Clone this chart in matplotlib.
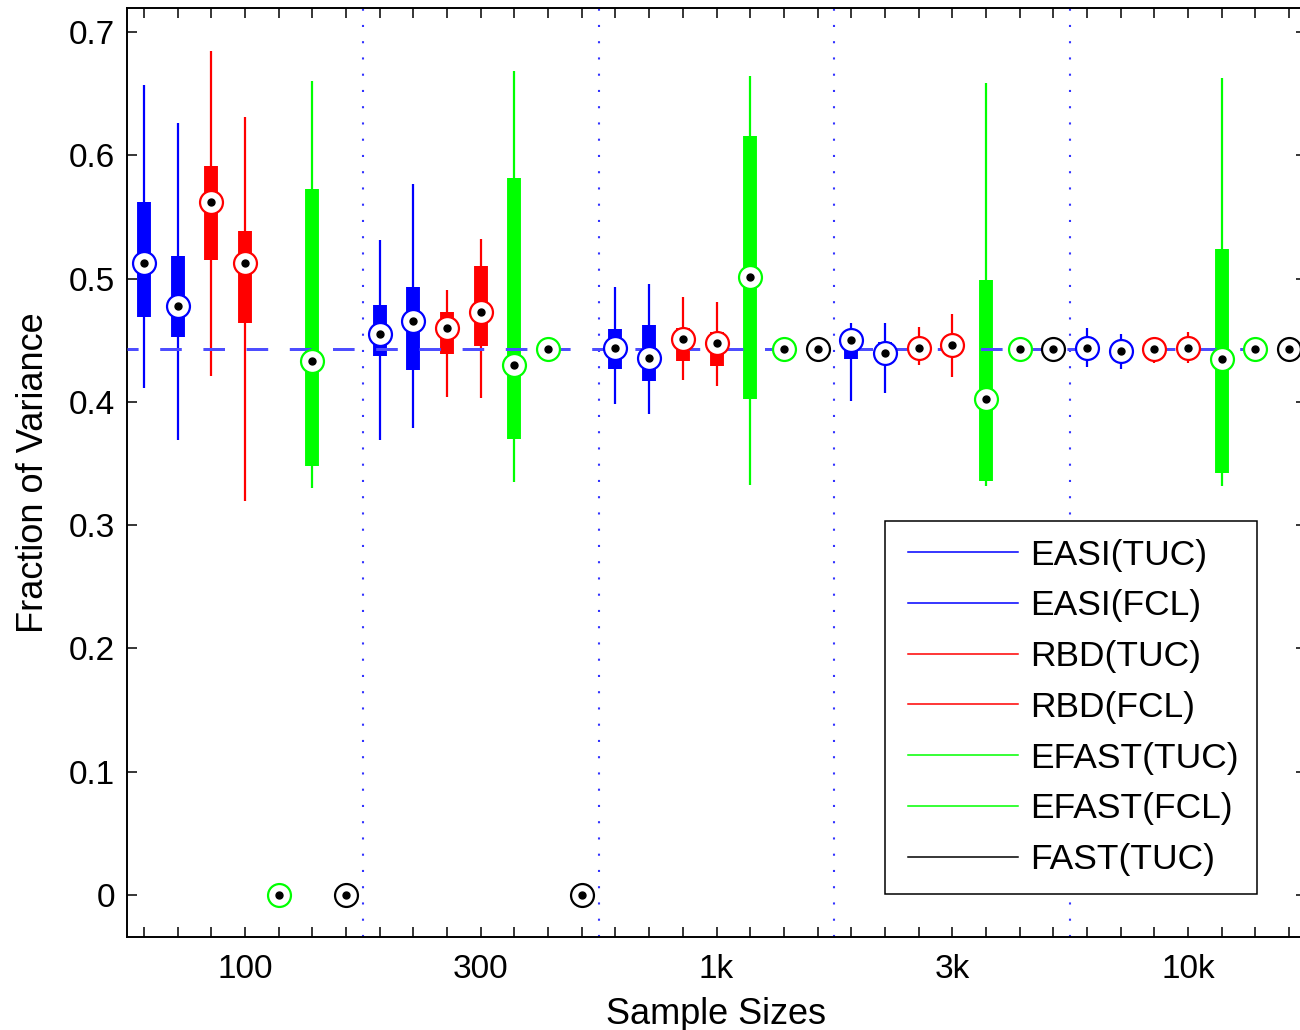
import numpy as np
import matplotlib
matplotlib.use('Agg')
import matplotlib.pyplot as plt
from matplotlib.lines import Line2D
from matplotlib.legend_handler import HandlerLine2D

plt.rcParams['font.family'] = ['Liberation Sans', 'DejaVu Sans']

methods = ['EASI(TUC)', 'EASI(FCL)', 'RBD(TUC)', 'RBD(FCL)',
           'EFAST(TUC)', 'EFAST(FCL)', 'FAST(TUC)']
method_colors = ['#0000ff', '#0000ff', '#ff0000', '#ff0000',
                 '#00ff00', '#00ff00', '#000000']
sample_sizes = ['100', '300', '1k', '3k', '10k']
reference_value = 0.4428

# rows: sample size, columns: method (order as in `methods`)
whisker_low = [
    [0.411, 0.369, 0.421, 0.320, 0.000, 0.330, 0.000],
    [0.369, 0.379, 0.404, 0.403, 0.335, 0.4428, 0.000],
    [0.398, 0.390, 0.418, 0.413, 0.333, 0.4428, 0.4428],
    [0.401, 0.407, 0.430, 0.420, 0.332, 0.4428, 0.4428],
    [0.428, 0.427, 0.4315, 0.4315, 0.332, 0.4428, 0.4428],
]
quartile_1 = [
    [0.469, 0.453, 0.515, 0.464, 0.000, 0.348, 0.000],
    [0.437, 0.426, 0.439, 0.445, 0.370, 0.4428, 0.000],
    [0.427, 0.417, 0.433, 0.429, 0.402, 0.4428, 0.4428],
    [0.435, 0.434, 0.439, 0.440, 0.336, 0.4428, 0.4428],
    [0.439, 0.436, 0.439, 0.439, 0.342, 0.4428, 0.4428],
]
medians = [
    [0.513, 0.478, 0.562, 0.513, 0.000, 0.433, 0.000],
    [0.455, 0.466, 0.460, 0.473, 0.430, 0.4428, 0.000],
    [0.4435, 0.436, 0.451, 0.448, 0.501, 0.4428, 0.4428],
    [0.450, 0.4395, 0.444, 0.446, 0.402, 0.4428, 0.4428],
    [0.444, 0.441, 0.4428, 0.444, 0.4345, 0.4428, 0.4428],
]
quartile_3 = [
    [0.562, 0.518, 0.591, 0.539, 0.000, 0.573, 0.000],
    [0.479, 0.493, 0.473, 0.510, 0.582, 0.4428, 0.000],
    [0.459, 0.462, 0.460, 0.457, 0.616, 0.4428, 0.4428],
    [0.455, 0.449, 0.448, 0.452, 0.499, 0.4428, 0.4428],
    [0.449, 0.446, 0.447, 0.449, 0.524, 0.4428, 0.4428],
]
whisker_high = [
    [0.657, 0.626, 0.685, 0.631, 0.000, 0.660, 0.000],
    [0.531, 0.577, 0.491, 0.532, 0.668, 0.4428, 0.000],
    [0.493, 0.496, 0.485, 0.481, 0.664, 0.4428, 0.4428],
    [0.464, 0.464, 0.461, 0.471, 0.659, 0.4428, 0.4428],
    [0.460, 0.455, 0.452, 0.4565, 0.663, 0.4428, 0.4428],
]
y_ticks = [0, 0.1, 0.2, 0.3, 0.4, 0.5, 0.6, 0.7]
y_tick_labels = ['0', '0.1', '0.2', '0.3', '0.4', '0.5', '0.6', '0.7']

n_m = len(methods)
n_g = len(sample_sizes)
n_pos = n_m * n_g

fig = plt.figure(figsize=(13, 10.3), dpi=100)
ax = fig.add_axes([127 / 1300, 93 / 1030, 1179 / 1300, 929 / 1030])

for g in range(n_g):
    for m in range(n_m):
        pos = g * n_m + m + 1
        c = method_colors[m]
        lo, q1, med, q3, hi = (whisker_low[g][m], quartile_1[g][m], medians[g][m],
                               quartile_3[g][m], whisker_high[g][m])
        if hi > lo:
            ax.plot([pos, pos], [lo, hi], color=c, lw=1.6,
                    solid_capstyle='butt', zorder=2)
            ax.plot([pos, pos], [q1, q3], color=c, lw=10,
                    solid_capstyle='butt', zorder=3)
        ax.plot([pos], [med], 'o', ms=16.5, mfc='white', mec=c, mew=1.6, zorder=5)
        ax.plot([pos], [med], 'o', ms=5, color='black', mec='black', zorder=6)

# reference (true) value line
ax.plot([0.5, n_pos + 0.5], [reference_value, reference_value], color='#4d4dff',
        lw=2.16, linestyle=(3.5, (7.2, 7.2)), zorder=4)

# group separators
for g in range(1, n_g):
    ax.axvline(g * n_m + 0.5, color='#3333ff', lw=1.5,
               linestyle=(0, (1, 6.8)), zorder=1)

ax.set_xlim(0.5, n_pos + 0.5)
ax.set_ylim(-0.034, 0.7195)

xt = list(range(1, n_pos + 1))
xl = [''] * n_pos
for g in range(n_g):
    xl[g * n_m + 3] = sample_sizes[g]
ax.set_xticks(xt)
ax.set_xticklabels(xl)
ax.set_yticks(y_ticks)
ax.set_yticklabels(y_tick_labels)
ax.tick_params(axis='both', direction='in', length=7, width=1.1,
               top=True, right=True, labelsize=24, colors='black')
ax.tick_params(axis='x', pad=12)
ax.tick_params(axis='y', pad=8.5)
for s in ax.spines.values():
    s.set_linewidth(1.4)

ax.set_xlabel('Sample Sizes', fontsize=26)
ax.set_ylabel('Fraction of Variance', fontsize=26)
ax.xaxis.set_label_coords(0.5, -0.0646)
ax.yaxis.set_label_coords(-0.0644, 0.5)

handles = [Line2D([0], [0], color=c, lw=1.1) for c in method_colors]
leg = fig.legend(handles, methods, loc='upper left',
                 bbox_to_anchor=(885 / 1300, 1 - 521 / 1030),
                 bbox_transform=fig.transFigure, borderaxespad=0,
                 fontsize=25.5, numpoints=2, handlelength=3.41,
                 handletextpad=0.2, labelspacing=0.5, borderpad=0.5,
                 fancybox=False, framealpha=1, edgecolor='black',
                 handler_map={Line2D: HandlerLine2D(marker_pad=0.15)})
leg.get_frame().set_linewidth(1.1)

fig.savefig('out.png', dpi=100)
